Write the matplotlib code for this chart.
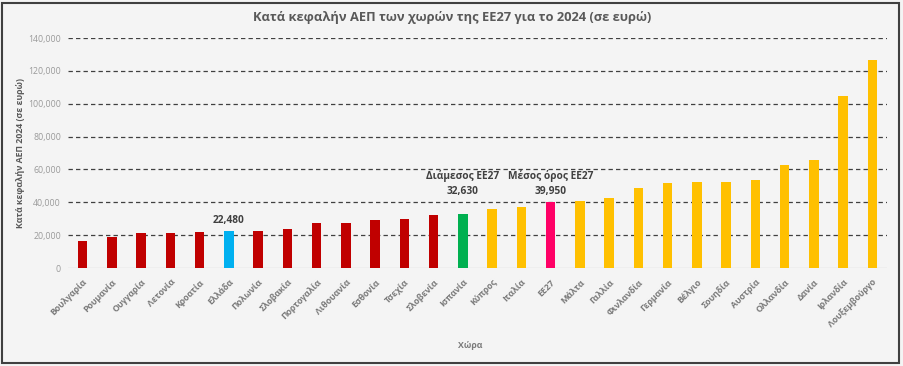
import matplotlib
matplotlib.use("Agg")
import matplotlib.pyplot as plt
from matplotlib.patches import Rectangle

plt.rcParams['font.family'] = ['Open Sans', 'DejaVu Sans']

# ------------------------------------------------------------------
# Data (per-capita GDP 2024, euro)
# ------------------------------------------------------------------
countries = ['Βουλγαρία', 'Ρουμανία', 'Ουγγαρία', 'Λετονία', 'Κροατία', 'Ελλάδα',
             'Πολωνία', 'Σλοβακία', 'Πορτογαλία', 'Λιθουανία', 'Εσθονία', 'Τσεχία',
             'Σλοβενία', 'Ισπανία', 'Κύπρος', 'Ιταλία', 'ΕΕ27', 'Μάλτα', 'Γαλλία',
             'Φινλανδία', 'Γερμανία', 'Βέλγιο', 'Σουηδία', 'Αυστρία', 'Ολλανδία',
             'Δανία', 'Ιρλανδία', 'Λουξεμβούργο']
gdp = [16600, 18700, 21500, 21500, 22200, 22480,
       22300, 23900, 27200, 27600, 29300, 29800,
       32000, 32630, 35700, 37100, 39950, 40700, 42400,
       48800, 51700, 52300, 52300, 53700, 62400,
       65500, 104600, 126900]

# colour groups
RED, BLUE, GREEN, PINK, YELLOW = '#C00000', '#00B0F0', '#00B050', '#FF0066', '#FFC000'
colors = [RED] * 13 + [YELLOW] * 15
colors[countries.index('Ελλάδα')] = BLUE
colors[countries.index('Ισπανία')] = GREEN
colors[countries.index('ΕΕ27')] = PINK

# label text, and the bar whose top the label sits on
annotations = {
    'Ελλάδα': ('22,480', 'Ελλάδα'),
    'Ισπανία': ('Διάμεσος ΕΕ27\n32,630', 'ΕΕ27'),
    'ΕΕ27': ('Μέσος όρος ΕΕ27\n39,950', 'ΕΕ27'),
}

yticks = list(range(0, 140001, 20000))

# ------------------------------------------------------------------
# Figure
# ------------------------------------------------------------------
bg = '#F4F4F4'
fig = plt.figure(figsize=(9.04, 3.66), dpi=100, facecolor=bg)
ax = fig.add_axes([68 / 904, 1 - 268 / 366, 819 / 904, 230 / 366])
ax.set_facecolor(bg)

x = range(len(countries))
ax.bar(x, gdp, width=0.32, color=colors, zorder=3)

ax.set_xlim(-0.5, len(countries) - 0.5)
ax.set_ylim(0, 140000)
ax.set_yticks(yticks)
ax.set_yticklabels([f'{v:,}' for v in yticks], fontsize=6.3, color='#9A9A9A')
ax.set_xticks(list(x))
ax.set_xticklabels(countries, rotation=45, ha='right', rotation_mode='anchor',
                   fontsize=6.3, color='#7A7A7A', fontweight='bold')
ax.tick_params(length=0, pad=5)
ax.tick_params(axis='x', pad=7)

# dashed gridlines, solid light baseline
for v in yticks[1:]:
    ax.axhline(v, color='#404040', lw=0.9, ls=(0, (3.5, 2.5)), zorder=1)
ax.axhline(0, color='#D6D6D6', lw=1, zorder=2)
for s in ax.spines.values():
    s.set_visible(False)

for name, (txt, anchor) in annotations.items():
    i = countries.index(name)
    ax.annotate(txt, (i, gdp[countries.index(anchor)]), xytext=(0, 4),
                textcoords='offset points', ha='center', va='bottom',
                fontsize=7.3, color='#404040', fontweight='bold',
                linespacing=1.45)

fig.text(0.5, 1 - 17 / 366, 'Κατά κεφαλήν ΑΕΠ των χωρών της ΕΕ27 για το 2024 (σε ευρώ)',
         ha='center', va='center', fontsize=9.3, fontweight='bold', color='#595959')
fig.text(470 / 904, 1 - 345 / 366, 'Χώρα', ha='center', va='center',
         fontsize=6.3, fontweight='bold', color='#7A7A7A')
fig.text(21 / 904, 1 - 153 / 366, 'Κατά κεφαλήν ΑΕΠ 2024 (σε ευρώ)', rotation=90,
         ha='center', va='center', fontsize=6.3, fontweight='bold', color='#595959')

# outer frame
fig.patches.append(Rectangle((2 / 904, 3 / 366), 897 / 904, 360 / 366,
                             transform=fig.transFigure, fill=False,
                             edgecolor='#404040', lw=1.5))

fig.savefig('out.png', dpi=100, facecolor=bg)
